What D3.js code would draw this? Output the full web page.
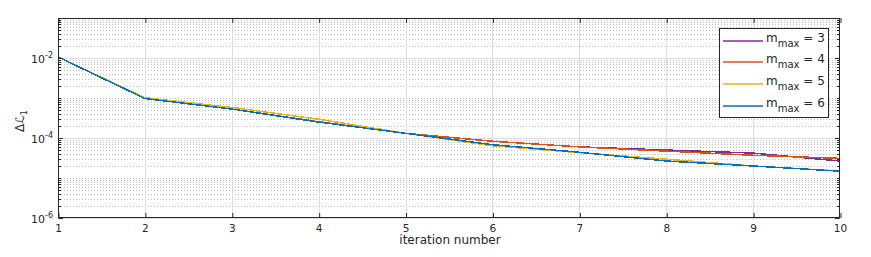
<!DOCTYPE html>
<html><head><meta charset="utf-8">
<script src="https://cdn.jsdelivr.net/npm/d3@7"></script>
<style>body{margin:0;background:#fff}svg{display:block}text{font-family:"DejaVu Sans",sans-serif;fill:#262626}</style>
</head><body><svg id="c" width="871" height="257"></svg>
<script>
const iterations = [1,2,3,4,5,6,7,8,9,10];
const seriesNames = ["3","4","5","6"];
const m3 = [1.06e-2, 9.7e-4, 5.3e-4, 2.5e-4, 1.31e-4, 8.3e-5, 6.0e-5, 5.0e-5, 4.2e-5, 2.66e-5];
const m4 = [1.06e-2, 9.7e-4, 5.3e-4, 2.55e-4, 1.31e-4, 8.3e-5, 6.0e-5, 4.7e-5, 3.7e-5, 3.1e-5];
const m5 = [1.06e-2, 1.02e-3, 5.8e-4, 2.95e-4, 1.31e-4, 6.4e-5, 4.3e-5, 2.95e-5, 2.0e-5, 1.5e-5];
const m6 = [1.06e-2, 9.7e-4, 5.3e-4, 2.5e-4, 1.31e-4, 6.8e-5, 4.4e-5, 2.66e-5, 2.0e-5, 1.48e-5];
const colors = ["#7E2F8E","#D95319","#EDB120","#0072BD"];
const xTicks = [1,2,3,4,5,6,7,8,9,10];
const yMajor = [-6,-4,-2];

const svg = d3.select("#c");
const L=58, R=840, T=18, B=218;
const x = d3.scaleLinear().domain([1,10]).range([L,R]);
const y = d3.scaleLog().domain([1e-6,1e-1]).range([B,T]);
const axisCol = "#262626";

// minor grid
const minorVals = [];
for (let e=-6; e<-1; e++) for (let k=1;k<=9;k++){ const v=k*Math.pow(10,e); if(k===1 && yMajor.includes(e)) continue; if(v>1e-6 && v<1e-1) minorVals.push(v);} 
const g = svg.append("g");
g.selectAll(".mg").data(minorVals).join("line")
 .attr("x1",L).attr("x2",R).attr("y1",d=>Math.round(y(d))+0.5).attr("y2",d=>Math.round(y(d))+0.5)
 .attr("stroke","#bdbdbd").attr("stroke-width",1).attr("stroke-dasharray","1,2");
g.selectAll(".gy").data(yMajor).join("line")
 .attr("x1",L).attr("x2",R).attr("y1",d=>Math.round(y(Math.pow(10,d)))+0.5).attr("y2",d=>Math.round(y(Math.pow(10,d)))+0.5)
 .attr("stroke","#dedede");
g.selectAll(".gx").data(xTicks.slice(1,-1)).join("line")
 .attr("y1",T).attr("y2",B).attr("x1",d=>Math.round(x(d))+0.5).attr("x2",d=>Math.round(x(d))+0.5)
 .attr("stroke","#dedede");

// lines
const data=[m3,m4,m5,m6];
const line = d3.line().x((d,i)=>x(iterations[i])).y(d=>y(d));
data.forEach((s,i)=>{
  svg.append("path").attr("d",line(s)).attr("fill","none").attr("stroke",colors[i])
   .attr("stroke-width",1.5).attr("shape-rendering","crispEdges");
});

// axes box
svg.append("rect").attr("x",L+0.5).attr("y",T+0.5).attr("width",R-L-1).attr("height",B-T-1)
 .attr("fill","none").attr("stroke",axisCol);
// x ticks (inward, bottom and top)
const xa = svg.append("g").attr("transform",`translate(0,${B})`)
 .call(d3.axisBottom(x).tickValues(xTicks).tickSize(-5).tickFormat(d3.format("d")).tickPadding(7));
xa.select(".domain").remove();
xa.selectAll("line").attr("stroke",axisCol).attr("transform","translate(0.5,0)");
xa.selectAll("text").attr("font-size",10.5).attr("fill",axisCol).attr("font-family","DejaVu Sans");
const xt = svg.append("g").attr("transform",`translate(0,${T})`)
 .call(d3.axisTop(x).tickValues(xTicks).tickSize(-5).tickFormat(""));
xt.select(".domain").remove();
xt.selectAll("line").attr("stroke",axisCol).attr("transform","translate(0.5,0)");

// y ticks
const majVals = yMajor.map(e=>Math.pow(10,e));
const allY = minorVals.concat(majVals);
[L, R].forEach((px,side)=>{
  svg.append("g").selectAll("line").data(allY).join("line")
   .attr("x1",px+(side?-0.5:0.5)).attr("x2",d=>px+(side?-1:1)*(majVals.some(m=>Math.abs(m-d)/d<1e-6)?5:3))
   .attr("y1",d=>Math.round(y(d))+0.5).attr("y2",d=>Math.round(y(d))+0.5).attr("stroke",axisCol);
});
const yl = svg.append("g");
yMajor.forEach(e=>{
  const t = yl.append("text").attr("x",L-5).attr("y",y(Math.pow(10,e))+5).attr("text-anchor","end").attr("font-size",11);
  t.append("tspan").text("10");
  t.append("tspan").attr("dy",-5).attr("font-size",8).text("-"+(-e));
});

// labels
svg.append("text").attr("x",(L+R)/2+1).attr("y",244).attr("text-anchor","middle").attr("font-size",12).text("iteration number");
const ylab = svg.append("text").attr("transform","translate(24,121) rotate(-90)").attr("text-anchor","middle").attr("font-size",12);
ylab.append("tspan").text("Δℒ");
ylab.append("tspan").attr("dy",3).attr("font-size",8).text("1");

// legend
const lg = svg.append("g");
lg.append("rect").attr("x",719.5).attr("y",28.5).attr("width",109).attr("height",89).attr("fill","#fff").attr("stroke",axisCol);
const rowsY=[40.5,62,83.5,105.5];
seriesNames.forEach((n,i)=>{
  lg.append("line").attr("x1",723).attr("x2",763).attr("y1",Math.round(rowsY[i])).attr("y2",Math.round(rowsY[i])).attr("stroke",colors[i]).attr("stroke-width",1.5);
  const t = lg.append("text").attr("x",766).attr("y",rowsY[i]+1).attr("font-size",12);
  t.append("tspan").text("m");
  t.append("tspan").attr("dy",5).attr("font-size",10).text("max");
  t.append("tspan").attr("dy",-5).text(" = "+n);
});
</script></body></html>
